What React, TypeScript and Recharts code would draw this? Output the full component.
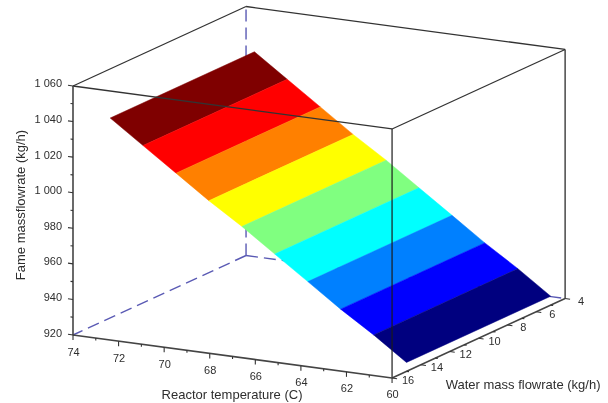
import { ScatterChart, Scatter, XAxis, YAxis } from 'recharts';

// surface: one colour band between each pair of edges
const bandTemps = [73, 71.56, 70.11, 68.67, 67.22, 65.78, 64.33, 62.89, 61.44, 60];
const bandFame = [1040, 1027, 1014, 1001, 989, 976, 963, 950, 938, 925];
const bandColors = ['#7f0000', '#ff0000', '#ff8000', '#ffff00', '#80ff80', '#00ffff', '#0080ff', '#0000ff', '#00007f'];
const surfaceWater = [15, 5];

// box limits
const tempRange = [74, 60];
const waterRange = [16, 4];
const fameRange = [920, 1060];

// ticks
const tempMajor = [74, 72, 70, 68, 66, 64, 62, 60];
const tempMinor = [73, 71, 69, 67, 65, 63, 61];
const waterMajor = [16, 14, 12, 10, 8, 6, 4];
const waterMinor = [15, 13, 11, 9, 7, 5];
const fameMajor = [1060, 1040, 1020, 1000, 980, 960, 940, 920];
const fameMinor = [1050, 1030, 1010, 990, 970, 950, 930];
const fameLabels = ['1 060', '1 040', '1 020', '1 000', '980', '960', '940', '920'];

// oblique view of the box, fitted to the corners in the picture
const project = (t: number, w: number, f: number) => ({
  sx: 73 + (74 - t) * 22.79 + (16 - w) * 14.42,
  sy: 335 + (74 - t) * 3.07 - (16 - w) * 6.625 - (f - 920) * 1.7786,
});

const [t0, t1] = tempRange;
const [w0, w1] = waterRange;
const [f0, f1] = fameRange;

const noDot = () => <g />;
const FONT = '"Liberation Sans", Arial, sans-serif';

const seg = (key: string, a: { sx: number; sy: number }, b: { sx: number; sy: number }, line: object) => (
  <Scatter key={key} data={[a, b]} dataKey="sy" shape={noDot} line={line} isAnimationActive={false} />
);

const labels = (
  key: string,
  rows: { sx: number; sy: number; label: string }[],
  anchor: 'start' | 'middle' | 'end',
  size: number,
  rotate = 0,
) => (
  <Scatter
    key={key}
    data={rows}
    dataKey="sy"
    isAnimationActive={false}
    shape={(p: any) => (
      <text
        x={p.cx}
        y={p.cy}
        textAnchor={anchor}
        dominantBaseline="central"
        fontFamily={FONT}
        fontSize={size}
        fill="#2e2e2e"
        transform={rotate ? `rotate(${rotate} ${p.cx} ${p.cy})` : undefined}
      >
        {p.payload.label}
      </text>
    )}
  />
);

const shift = (p: { sx: number; sy: number }, dx: number, dy: number) => ({ sx: p.sx + dx, sy: p.sy + dy });

export default function App() {
  const thin = { stroke: '#333', strokeWidth: 1.3 };
  const front = { stroke: '#1a1a1a', strokeWidth: 1.2 };
  const axis = { stroke: '#444', strokeWidth: 1.6 };
  const dashed = { stroke: '#5a5ab4', strokeWidth: 1.4, strokeDasharray: '12 6' };
  const tick = { stroke: '#333', strokeWidth: 1.1 };

  return (
    <div style={{ position: 'absolute', left: 0, top: 0, width: 608, height: 403, filter: 'blur(0.4px)' }}>
      <ScatterChart width={608} height={403} margin={{ top: 0, right: 0, bottom: 0, left: 0 }}>
        <XAxis type="number" dataKey="sx" domain={[0, 608]} hide />
        <YAxis type="number" dataKey="sy" domain={[0, 403]} reversed hide />

        {/* hidden edges go behind the surface */}
        {seg('back-up', project(t0, w1, f0), project(t0, w1, f1), dashed)}
        {seg('back-left', project(t0, w1, f0), project(t0, w0, f0), dashed)}
        {seg('back-right', project(t0, w1, f0), project(t1, w1, f0), dashed)}

        {bandColors.map((color, i) => (
          <Scatter
            key={color}
            data={[
              project(bandTemps[i], surfaceWater[0], bandFame[i]),
              project(bandTemps[i], surfaceWater[1], bandFame[i]),
              project(bandTemps[i + 1], surfaceWater[1], bandFame[i + 1]),
              project(bandTemps[i + 1], surfaceWater[0], bandFame[i + 1]),
            ]}
            dataKey="sy"
            shape={noDot}
            lineJointType="linearClosed"
            line={{ stroke: color, strokeWidth: 0.5, fill: color }}
            isAnimationActive={false}
          />
        ))}

        {/* top of the box and the edges in front */}
        {seg('top-a', project(t0, w0, f1), project(t1, w0, f1), thin)}
        {seg('top-b', project(t1, w0, f1), project(t1, w1, f1), thin)}
        {seg('top-c', project(t1, w1, f1), project(t0, w1, f1), thin)}
        {seg('top-d', project(t0, w1, f1), project(t0, w0, f1), thin)}
        {seg('v-front', project(t1, w0, f0), project(t1, w0, f1), front)}
        {seg('v-right', project(t1, w1, f0), project(t1, w1, f1), front)}
        {seg('axis-fame', project(t0, w0, f0), project(t0, w0, f1), axis)}
        {seg('axis-temp', project(t0, w0, f0), project(t1, w0, f0), axis)}
        {seg('axis-water', project(t1, w0, f0), project(t1, w1, f0), axis)}

        {fameMajor.map((f) => seg(`fm${f}`, project(t0, w0, f), shift(project(t0, w0, f), -5, -0.7), tick))}
        {fameMinor.map((f) => seg(`fn${f}`, project(t0, w0, f), shift(project(t0, w0, f), -2.5, -0.3), tick))}
        {tempMajor.map((t) => seg(`tm${t}`, project(t, w0, f0), shift(project(t, w0, f0), 0, 5), tick))}
        {tempMinor.map((t) => seg(`tn${t}`, project(t, w0, f0), shift(project(t, w0, f0), 0, 2.5), tick))}
        {waterMajor.map((w) => seg(`wm${w}`, project(t1, w, f0), shift(project(t1, w, f0), 5, 0.7), tick))}
        {waterMinor.map((w) => seg(`wn${w}`, project(t1, w, f0), shift(project(t1, w, f0), 2.5, 0.3), tick))}

        {labels('fame-labels', fameMajor.map((f, i) => ({ ...shift(project(t0, w0, f), -11, -2.5), label: fameLabels[i] })), 'end', 11)}
        {labels('temp-labels', tempMajor.map((t) => ({ ...shift(project(t, w0, f0), 0.5, 16.5), label: String(t) })), 'middle', 11)}
        {labels('water-labels', waterMajor.map((w) => ({ ...shift(project(t1, w, f0), 16, 2.5), label: String(w) })), 'middle', 11)}

        {labels('title-temp', [{ ...shift(project(t1, w0, f0), -160, 17), label: 'Reactor temperature (C)' }], 'middle', 13)}
        {labels('title-water', [{ ...shift(project(t1, w1, f0), -42, 86), label: 'Water mass flowrate (kg/h)' }], 'middle', 13)}
        {labels('title-fame', [{ ...shift(project(t0, w0, f0), -53, -130), label: 'Fame massflowrate (kg/h)' }], 'middle', 13, -90)}
      </ScatterChart>
    </div>
  );
}
